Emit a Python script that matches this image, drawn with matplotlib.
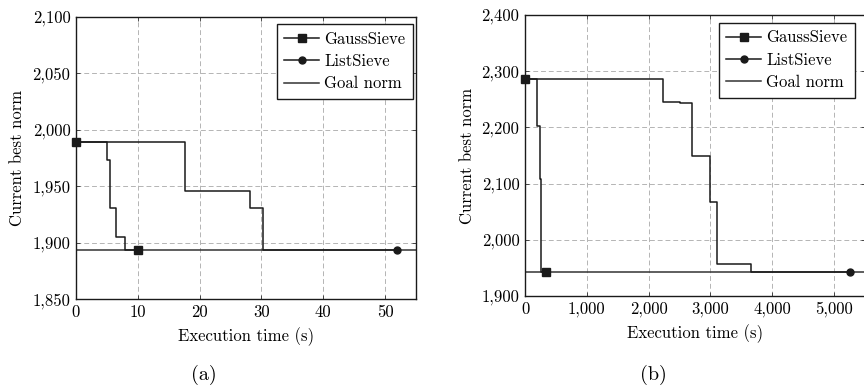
import matplotlib.pyplot as plt
from matplotlib.ticker import FuncFormatter

plt.rcParams['font.family'] = 'serif'
plt.rcParams['font.serif'] = ['cmr10']
plt.rcParams['axes.formatter.use_mathtext'] = True
plt.rcParams['font.size'] = 12

# (a) small instance, time in seconds
gauss_a_t = [0, 5.0, 5.45, 6.5, 7.9, 10.0]
gauss_a_n = [1989, 1973, 1931, 1905, 1893, 1893]
list_a_t = [0, 17.7, 28.2, 30.2, 52.0]
list_a_n = [1989, 1946, 1931, 1893, 1893]
goal_a = 1893

# (b) larger instance
gauss_b_t = [0, 194, 238, 266, 335]
gauss_b_n = [2287, 2203, 2108, 1943, 1943]
list_b_t = [0, 2235, 2505, 2695, 2991, 3100, 3650, 5263]
list_b_n = [2287, 2246, 2244, 2150, 2067, 1957, 1943, 1943]
goal_b = 1943

W, H = 864, 387
fig = plt.figure(figsize=(W / 100, H / 100), dpi=100)


def box(l, t, r, b):
    return [l / W, 1 - b / H, (r - l) / W, (b - t) / H]


def thousands(v, pos):
    return '{:,.0f}'.format(v)


def panel(ax, gt, gn, lt, ln, goal, xlim, ylim, xticks, yticks, anchor):
    ax.axhline(goal, color='#333333', lw=1.1, zorder=2, label='Goal norm')
    ax.plot(lt, ln, drawstyle='steps-post', color='#1a1a1a', lw=1.1,
            marker='o', markersize=5, markevery=[len(lt) - 1], zorder=3,
            clip_on=False, label='ListSieve')
    ax.plot(gt, gn, drawstyle='steps-post', color='#1a1a1a', lw=1.1,
            marker='s', markersize=6, markevery=[0, len(gt) - 1], zorder=4,
            clip_on=False, label='GaussSieve')
    ax.set_xlim(*xlim)
    ax.set_ylim(*ylim)
    ax.set_xticks(xticks)
    ax.set_yticks(yticks)
    ax.xaxis.set_major_formatter(FuncFormatter(thousands))
    ax.yaxis.set_major_formatter(FuncFormatter(thousands))
    ax.grid(True, color='#b4b4b4', lw=0.7, linestyle=(0, (5, 3)))
    ax.set_axisbelow(True)
    ax.tick_params(direction='in', length=3, width=0.6, top=True, right=True,
                   labelsize=12, pad=4, color='#333333')
    for s in ax.spines.values():
        s.set_linewidth(1.0)
        s.set_color('#1a1a1a')
    ax.set_xlabel('Execution time (s)', fontsize=12, labelpad=5)
    ax.set_ylabel('Current best norm', fontsize=12, labelpad=5)
    h, lab = ax.get_legend_handles_labels()
    order = [2, 1, 0]
    leg = ax.legend([h[i] for i in order], [lab[i] for i in order],
                    loc='upper right', bbox_to_anchor=anchor,
                    fancybox=False, edgecolor='#1a1a1a', framealpha=1,
                    fontsize=12, handlelength=2.1, handletextpad=0.3,
                    borderpad=0.45, labelspacing=0.42, borderaxespad=0)
    leg.get_frame().set_linewidth(1.0)
    return ax


ax1 = fig.add_axes(box(76, 17, 416, 299))
panel(ax1, gauss_a_t, gauss_a_n, list_a_t, list_a_n, goal_a,
      (0, 55), (1850, 2100), [0, 10, 20, 30, 40, 50],
      [1850, 1900, 1950, 2000, 2050, 2100], (0.991, 0.975))

ax2 = fig.add_axes(box(525, 15, 865, 296))
panel(ax2, gauss_b_t, gauss_b_n, list_b_t, list_b_n, goal_b,
      (0, 5500), (1900, 2400), [0, 1000, 2000, 3000, 4000, 5000],
      [1900, 2000, 2100, 2200, 2300, 2400], (0.97, 0.973))

fig.text(204 / W, 1 - 375 / H, '(a)', ha='center', va='center', fontsize=14.5)
fig.text(653 / W, 1 - 375 / H, '(b)', ha='center', va='center', fontsize=14.5)

fig.savefig('out.png', dpi=100)
